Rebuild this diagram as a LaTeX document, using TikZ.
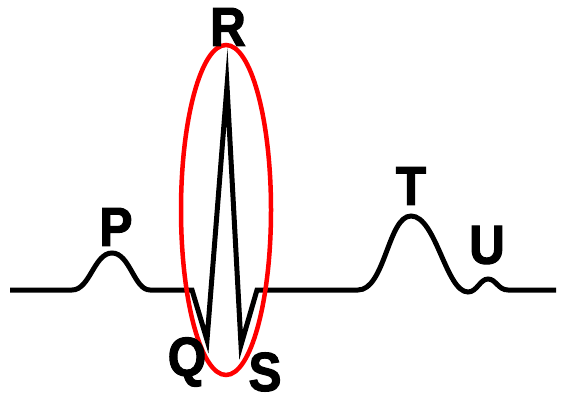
\documentclass[tikz,border=0pt]{standalone}
\usepackage{fontspec}
\usepackage{tikz}
\newfontfamily\lblfont[FakeBold=2,FakeStretch=0.9]{Liberation Sans}

\begin{document}
\begin{tikzpicture}[
  x=1pt, y=-1pt,
  wave/.style={draw=black, line width=5pt, line join=miter, miter limit=20},
  ring/.style={draw=red, line width=4.5pt},
  lbl/.style={font=\lblfont\bfseries\fontsize{55}{55}\selectfont, inner sep=0pt}
]
\useasboundingbox (0,0) rectangle (561,398);
% key points of the trace
\coordinate (start) at (10,290);
\coordinate (pbeg) at (72,290);
\coordinate (ptop) at (112,253);
\coordinate (pend) at (150,290);
\coordinate (qbeg) at (192,290);
\coordinate (qtip) at (207,340);
\coordinate (rtip) at (227,86);
\coordinate (stip) at (241,345);
\coordinate (send) at (257,290);
\coordinate (tbeg) at (358,290);
\coordinate (ttop) at (411,216);
\coordinate (tend) at (468,292);
\coordinate (utop) at (488,279);
\coordinate (uend) at (508,290);
\coordinate (stop) at (556,290);
\draw[wave] (start) -- (pbeg)
  .. controls (90,290) and (94,253) .. (ptop)
  .. controls (130,253) and (134,290) .. (pend)
  -- (qbeg) -- (qtip) -- (rtip) -- (stip) -- (send) -- (tbeg)
  .. controls (385,290) and (388,216) .. (ttop)
  .. controls (436,216) and (446,292) .. (tend)
  .. controls (477,292) and (480,279) .. (utop)
  .. controls (496,279) and (498,290) .. (uend)
  -- (stop);
% the QRS complex
\coordinate (qrs) at (226,210);
\draw[ring] (qrs) ellipse [x radius=45pt, y radius=165pt];
% wave names
\node[lbl] (P) at (116,227) {P};
\node[lbl] (R) at (228,27) {R};
\node[lbl] (Q) at (187,362) {Q};
\node[lbl] (S) at (265,372) {S};
\node[lbl] (T) at (411,186) {T};
\node[lbl] (U) at (487,245) {U};
\end{tikzpicture}
\end{document}
